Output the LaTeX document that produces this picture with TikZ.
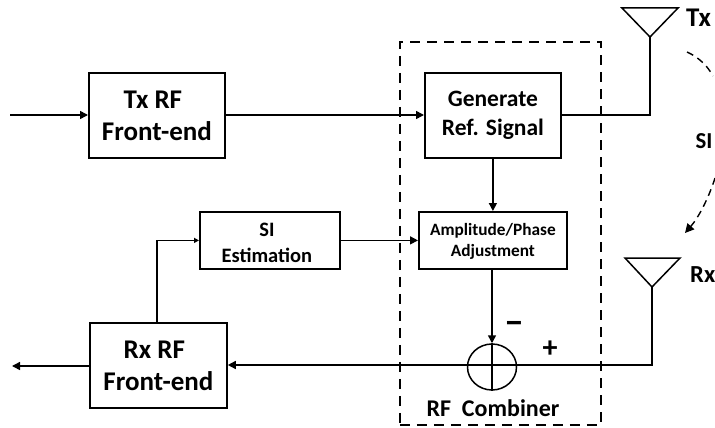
\documentclass[tikz,border=0pt]{standalone}
\usepackage{fontspec}
\setmainfont{Carlito}
\usetikzlibrary{arrows.meta,shapes.geometric,positioning}
\tikzset{
  wire/.style={line width=1.5pt,black},
  arrowed/.style={wire,-{Triangle[length=8pt,width=8pt]}},
  thinarrow/.style={wire,-{Triangle[length=5pt,width=5pt]}},
  blockbox/.style={draw,line width=1.8pt,align=center,inner sep=0pt,anchor=north west},
  big/.style={font=\fontsize{27}{32}\selectfont\bfseries},
  mid/.style={font=\fontsize{23.5}{29}\selectfont\bfseries},
  est/.style={font=\fontsize{20.5}{26}\selectfont\bfseries},
  small/.style={font=\fontsize{17.3}{21}\selectfont\bfseries},
  ant/.style={line width=1.5pt,line join=miter},
  lab/.style={font=\fontsize{27}{27}\selectfont\bfseries,inner sep=0pt},
  dashpath/.style={line width=1.4pt,dash pattern=on 7pt off 5pt},
}
\begin{document}
\begin{tikzpicture}[x=1pt,y=-1pt]
\useasboundingbox (0,0) rectangle (715,428);
% dashed enclosure
\node[draw,line width=1.8pt,dash pattern=on 10pt off 7pt,minimum width=201pt,minimum height=383pt,inner sep=0pt,anchor=north west] (combinerbox) at (399,41) {};
% blocks
\node[blockbox,big,minimum width=136pt,minimum height=85pt] (txrf) at (88,72) {\hspace*{-8pt}Tx RF\\Front-end};
\node[blockbox,mid,minimum width=136pt,minimum height=85pt] (gen) at (424,72) {Generate\\Ref. Signal};
\node[blockbox,small,minimum width=148pt,minimum height=57pt] (amp) at (418,211) {\rule{0pt}{15pt}Amplitude/Phase\\Adjustment};
\node[blockbox,est,minimum width=140pt,minimum height=57pt] (estim) at (199,211) {\hspace*{-6pt}\rule{0pt}{18pt}SI\\\hspace*{-6pt}Estimation};
\node[blockbox,big,minimum width=137pt,minimum height=85pt] (rxrf) at (89,322) {\hspace*{-8pt}Rx RF\\Front-end};
\node[draw,ellipse,line width=1.5pt,minimum width=49pt,minimum height=46pt,inner sep=0pt] (sum) at (492,367) {};
% antennas
\coordinate (txtip) at (650,37);
\coordinate (rxtip) at (652,287);
\draw[ant] (622,8) -- (678,8) -- (txtip) -- cycle;
\draw[ant] (625,258) -- (680,258) -- (rxtip) -- cycle;
% free ends and corners
\coordinate (txin) at (10,115);
\coordinate (rxout) at (12,366);
\coordinate (txcorner) at (650,115);
\coordinate (rxcorner) at (652,365);
\coordinate (estcorner) at (157,239);
% connectors
\draw[arrowed] (txin) -- (txrf.west |- txin);
\draw[arrowed] (txrf.east |- txin) -- (gen.west |- txin);
\draw[wire] (gen.east |- txcorner) -- (txcorner) -- (txtip);
\draw[arrowed] (gen.south) -- (gen.south |- amp.north);
\draw[arrowed] (estim.east) -- (amp.west |- estim.east);
\draw[thinarrow] (rxrf.north -| estcorner) -- (estcorner |- estim.west) -- (estim.west);
\draw[arrowed] (amp.south -| sum.north) -- (sum.north);
\draw[wire] (sum.north) -- (sum.south);
\draw[wire] (rxtip) -- (rxcorner) -- (sum.west |- rxcorner);
\draw[arrowed] (sum.west |- rxcorner) -- (rxrf.east |- rxcorner);
\draw[arrowed] (rxrf.west |- rxout) -- (rxout);
% SI path
\draw[dashpath] (687,52) .. controls (698,57) and (707,65) .. (713,76);
\draw[dashpath,-{Triangle[length=9pt,width=9pt]}] (715,178) .. controls (709,197) and (699,217) .. (685,233);
% labels
\node[lab,anchor=base west] (txlab) at (686,27) {Tx};
\node[lab,font=\fontsize{24.5}{27}\selectfont\bfseries,anchor=base west] (rxlab) at (690,282) {Rx};
\node[lab,font=\fontsize{22.8}{24}\selectfont\bfseries,anchor=base] (silab) at (704,148) {SI};
\node[font=\fontsize{36}{36}\selectfont\bfseries,inner sep=0pt] (minus) at (514,328) {−};
\node[font=\fontsize{30}{30}\selectfont\bfseries,inner sep=0pt] (plus) at (550,349) {+};
\node[font=\fontsize{24}{26}\selectfont\bfseries,inner sep=0pt,anchor=base] (comblab) at (493,416) {RF\ \ Combiner};
\end{tikzpicture}
\end{document}
